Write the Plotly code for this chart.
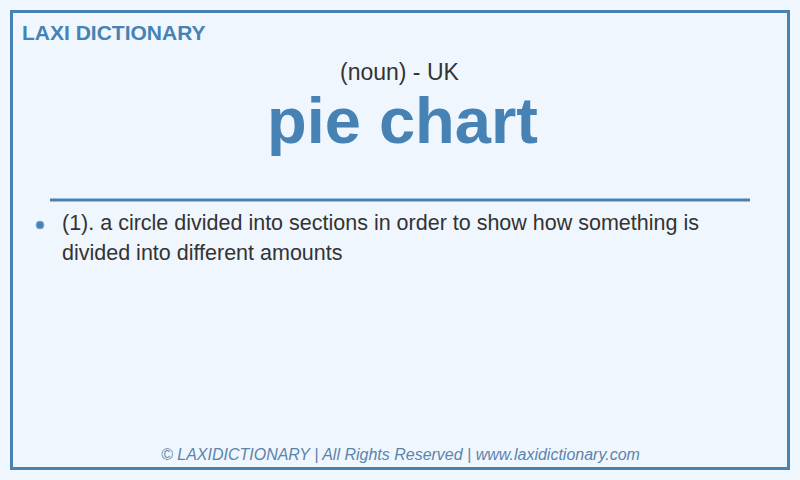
import plotly.graph_objects as go

# card content
brand = "LAXI DICTIONARY"
word = "pie chart"
part_of_speech = "(noun) - UK"
definition_lines = [
    "(1). a circle divided into sections in order to show how something is",
    "divided into different amounts",
]
footer = "© LAXIDICTIONARY | All Rights Reserved | www.laxidictionary.com"

BLUE = "#4682b4"
TEXT = "#333333"
BG = "#f0f6fe"
FONT = "Liberation Sans, Arial, sans-serif"

fig = go.Figure()

# border of the card
fig.add_shape(type="rect", x0=11.5, y0=11.5, x1=788.5, y1=468.5,
              line=dict(color=BLUE, width=3), fillcolor=BG, layer="below")
# separator under the headword
fig.add_shape(type="line", x0=50, x1=750, y0=200, y1=200,
              line=dict(color=BLUE, width=3))
# bullet
fig.add_shape(type="circle", x0=36, x1=44, y0=221, y1=229,
              line=dict(color="#8ab0d4", width=1), fillcolor=BLUE)

fig.add_annotation(x=20, y=32, text="<b>" + brand + "</b>", xanchor="left",
                   font=dict(size=21, color=BLUE, family=FONT))
fig.add_annotation(x=400, y=72, text=part_of_speech,
                   font=dict(size=23, color=TEXT, family=FONT))
fig.add_annotation(x=402, y=120, text="<b>" + word + "</b>",
                   font=dict(size=65, color=BLUE, family=FONT))
for i, line in enumerate(definition_lines):
    fig.add_annotation(x=60, y=223 + 30 * i, text=line, xanchor="left",
                       font=dict(size=21.5, color=TEXT, family=FONT))
fig.add_annotation(x=400, y=454, text="<i>" + footer + "</i>",
                   font=dict(size=16, color="#5b84ab", family=FONT))

fig.update_annotations(showarrow=False, yanchor="middle")
fig.update_xaxes(range=[0, 800], visible=False, fixedrange=True)
fig.update_yaxes(range=[480, 0], visible=False, fixedrange=True)
fig.update_layout(width=800, height=480, margin=dict(l=0, r=0, t=0, b=0),
                  paper_bgcolor=BG, plot_bgcolor=BG, showlegend=False)

fig.write_html("out.html", config={"displayModeBar": False},
               post_script="document.body.style.margin='0';")
